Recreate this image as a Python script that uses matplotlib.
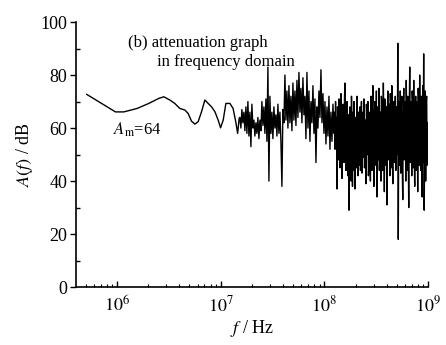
import numpy as np
import matplotlib
matplotlib.use("Agg")
import matplotlib.pyplot as plt
from matplotlib.ticker import FixedLocator, NullFormatter

plt.rcParams['font.family'] = ['Liberation Serif', 'DejaVu Serif']
plt.rcParams['mathtext.fontset'] = 'stix'

# smooth low-frequency part (Hz, dB)
smooth_freq = [5.14e5, 9.71e5, 1.168e6, 1.57e6, 2.035e6, 2.54e6, 2.84e6, 3.24e6,
               3.62e6, 4.05e6, 4.53e6, 4.87e6, 5.25e6, 5.65e6, 6.08e6, 6.56e6,
               7.06e6, 7.59e6, 8.19e6, 8.81e6, 9.48e6, 1.0e7, 1.06e7, 1.125e7,
               1.23e7, 1.32e7, 1.40e7, 1.46e7, 1.51e7]
smooth_att = [72.7, 66.1, 66.1, 67.4, 69.3, 71.2, 71.8, 70.6,
              69.3, 67.4, 66.8, 65.5, 62.6, 61.5, 62.4, 66.2,
              70.6, 69.3, 68.0, 66.2, 63.0, 60.1, 63.0, 69.3,
              69.3, 67.4, 62.4, 58.0, 63.7]

# noisy mid band, sampled from 1.535e7 Hz to 1.21e8 Hz
band_a_range = (1.535e7, 1.21e8)
band_a_att = [64, 60, 67, 62, 66, 59, 68, 58, 70, 57, 66, 53, 69, 60, 63, 57,
              62, 58, 64, 56, 63, 59, 70, 61, 68, 58, 71, 55, 83, 40, 72, 58,
              66, 56, 68, 60, 65, 57, 69, 58, 66, 55, 38, 67, 62, 80, 63, 74,
              60, 76, 62, 72, 59, 77, 63, 74, 61, 78, 64, 81, 66, 75, 62, 79,
              65, 72, 56, 81, 60, 74, 55, 70, 62, 76, 58, 71, 47, 68, 60, 74,
              64, 82, 62, 73, 58, 70, 54, 68, 57, 72, 52, 66, 55, 69]

# dense high band, sampled from 1.24e8 Hz to 1e9 Hz
band_b_range = (1.24e8, 1.0e9)
band_b_att = [58, 66, 52, 70, 56, 64, 37, 68, 62, 48, 71, 54, 45, 66, 73, 50,
              41, 64, 69, 52, 47, 72, 77, 55, 44, 67, 70, 50, 42, 65, 29, 62,
              68, 46, 40, 72, 58, 38, 66, 44, 70, 50, 37, 64, 62, 45, 72, 48,
              42, 66, 60, 46, 68, 44, 50, 70, 43, 64, 66, 49, 71, 45, 47, 63,
              39, 69, 64, 50, 70, 42, 46, 66, 62, 40, 72, 48, 44, 68, 76, 50,
              38, 65, 70, 46, 47, 74, 34, 62, 68, 48, 75, 44, 52, 66, 40, 72,
              70, 46, 44, 77, 62, 36, 71, 49, 46, 68, 31, 64, 74, 48, 50, 69,
              42, 73, 66, 45, 76, 50, 39, 64, 70, 47, 48, 72, 44, 66, 68, 50,
              92, 18, 70, 46, 52, 74, 43, 67, 72, 45, 33, 66, 75, 48, 50, 70,
              40, 78, 64, 44, 72, 49, 30, 66, 83, 47, 55, 70, 42, 74, 68, 45,
              78, 51, 38, 66, 72, 44, 49, 70, 36, 75, 68, 46, 80, 50, 44, 72,
              63, 34, 76, 47, 88, 29, 52, 74, 40, 70, 72, 46, 62, 55]

y_ticks = [0, 20, 40, 60, 80, 100]
x_ticks = [1e6, 1e7, 1e8, 1e9]
x_tick_labels = [r'$10^{6}$', r'$10^{7}$', r'$10^{8}$', r'$10^{9}$']

freq = np.concatenate([
    np.array(smooth_freq),
    np.geomspace(band_a_range[0], band_a_range[1], len(band_a_att)),
    np.geomspace(band_b_range[0], band_b_range[1], len(band_b_att)),
])
att = np.concatenate([smooth_att, band_a_att, band_b_att])

fig = plt.figure(figsize=(4.46, 3.45), dpi=100)
ax = fig.add_axes([0.170, 0.168, 0.790, 0.768])
ax.plot(freq, att, color='black', lw=1.0)

ax.set_xscale('log')
ax.set_xlim(4.03e5, 1e9)
ax.set_ylim(0, 100)

ax.spines['top'].set_visible(False)
ax.spines['right'].set_visible(False)
ax.spines['left'].set_linewidth(1.2)
ax.spines['bottom'].set_linewidth(1.2)

ax.set_yticks(y_ticks)
ax.yaxis.set_minor_locator(FixedLocator([10, 30, 50, 70, 90]))
ax.tick_params(axis='y', which='major', direction='out', length=4, width=1, labelsize=13, pad=2)
ax.tick_params(axis='y', which='minor', direction='in', length=3, width=1)

ax.set_xticks(x_ticks)
ax.set_xticklabels(x_tick_labels)
minors = []
for d in [1e5, 1e6, 1e7, 1e8]:
    for m in range(2, 10):
        minors.append(d * m)
ax.xaxis.set_minor_locator(FixedLocator(minors))
ax.xaxis.set_minor_formatter(NullFormatter())
ax.tick_params(axis='x', which='major', direction='in', length=4, width=1, labelsize=13, pad=6)
ax.tick_params(axis='x', which='minor', direction='in', length=2.5, width=0.8)

ax.set_ylabel(r'$A(f)$ / dB', fontsize=13, labelpad=4)
ax.set_xlabel(r'$f$ / Hz', fontsize=13, labelpad=2)

fig.text(128 / 446, 1 - 43 / 345, '(b) attenuation graph', fontsize=12, va='center', ha='left')
fig.text(157 / 446, 1 - 62 / 345, 'in frequency domain', fontsize=12, va='center', ha='left')
fig.text(113 / 446, 1 - 130 / 345, r'$A_{\rm m}$=64', fontsize=12, va='center', ha='left')

fig.savefig('out.png', dpi=100)
